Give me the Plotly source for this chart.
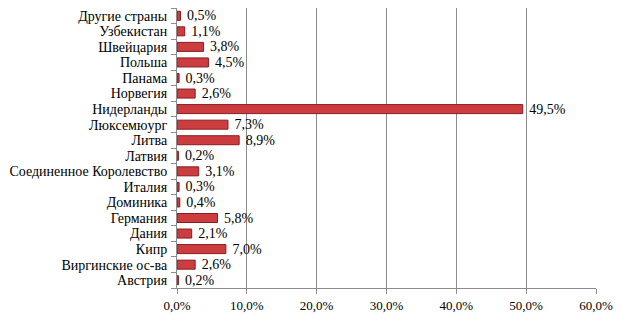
import plotly.graph_objects as go

categories = ["Австрия", "Виргинские ос-ва", "Кипр", "Дания", "Германия", "Доминика",
              "Италия", "Соединенное Королевство", "Латвия", "Литва", "Люксемюург",
              "Нидерланды", "Норвегия", "Панама", "Польша", "Швейцария", "Узбекистан",
              "Другие страны"]
values = [0.2, 2.6, 7.0, 2.1, 5.8, 0.4, 0.3, 3.1, 0.2, 8.9, 7.3, 49.5, 2.6, 0.3, 4.5, 3.8, 1.1, 0.5]
tick_vals = [0, 10, 20, 30, 40, 50, 60]
tick_text = ["0,0%", "10,0%", "20,0%", "30,0%", "40,0%", "50,0%", "60,0%"]

labels = [f" {v:.1f}%".replace(".", ",") for v in values]

font = "Liberation Serif, Times New Roman, serif"

fig = go.Figure(go.Bar(
    y=categories, x=values, orientation="h",
    marker=dict(color="#CC3D40", line=dict(color="#8A1C1F", width=1)),
    text=labels, textposition="outside", cliponaxis=False, constraintext="none",
    textfont=dict(family=font, size=14, color="#000"),
))

fig.update_layout(
    width=613, height=320,
    margin=dict(l=169, r=25, t=0, b=40),
    paper_bgcolor="white", plot_bgcolor="white",
    showlegend=False, bargap=0.42,
    font=dict(family=font, size=14, color="#000"),
)
fig.update_xaxes(range=[0, 60], tickvals=tick_vals, ticktext=tick_text, automargin=False,
                 showgrid=True, gridcolor="#8C8C8C", gridwidth=1,
                 showline=True, linecolor="#8C8C8C", linewidth=1,
                 ticks="outside", ticklen=5, tickcolor="#8C8C8C",
                 tickfont=dict(family=font, size=13), zeroline=False)
fig.update_yaxes(type="category", categoryorder="array", categoryarray=categories,
                 tickmode="array", tickvals=categories, automargin=False,
                 showline=True, linecolor="#8C8C8C", linewidth=1,
                 ticks="outside", ticklen=5, tickcolor="#8C8C8C", tickson="boundaries",
                 ticklabelstandoff=6,
                 tickfont=dict(family=font, size=14), showgrid=False)

fig.write_html("out.html")
